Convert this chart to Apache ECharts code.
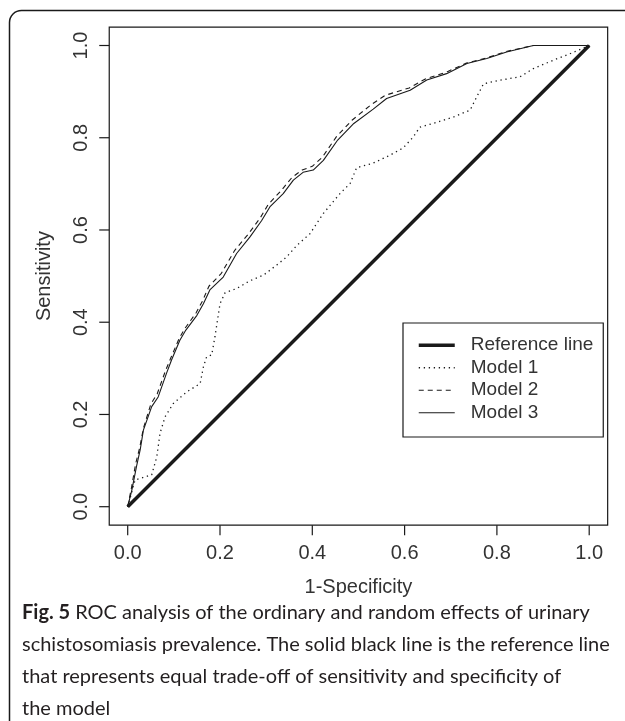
<!DOCTYPE html>
<html>
<head>
<meta charset="utf-8">
<script src="https://cdn.jsdelivr.net/npm/echarts@6/dist/echarts.min.js"></script>
<style>
  html, body { margin: 0; padding: 0; background: #fff; }
  #roc { width: 625px; height: 721px; }
</style>
</head>
<body>
<div id="roc"></div>
<script>
// tick values for both axes
var tickValues = [0, 0.2, 0.4, 0.6, 0.8, 1.0];

// reference line (diagonal)
var refX = [0, 1];
var refY = [0, 1];

// Model 1 (dotted)
var m1X = [0, 0.016, 0.052, 0.063, 0.07, 0.081, 0.099, 0.128, 0.157, 0.164, 0.171, 0.182, 0.189, 0.2, 0.211, 0.236, 0.265, 0.294, 0.323, 0.345, 0.366, 0.395, 0.424, 0.46, 0.482, 0.496, 0.532, 0.568, 0.597, 0.619, 0.633, 0.662, 0.706, 0.742, 0.756, 0.771, 0.807, 0.85, 0.879, 0.922, 0.958, 1.0];
var m1Y = [0, 0.058, 0.069, 0.108, 0.159, 0.195, 0.224, 0.249, 0.267, 0.303, 0.325, 0.329, 0.368, 0.44, 0.464, 0.473, 0.49, 0.502, 0.524, 0.542, 0.566, 0.592, 0.636, 0.679, 0.701, 0.735, 0.745, 0.762, 0.778, 0.802, 0.823, 0.831, 0.845, 0.86, 0.888, 0.917, 0.925, 0.932, 0.95, 0.968, 0.982, 1.0];

// Model 2 (dashed)
var m2X = [0, 0.008, 0.017, 0.026, 0.034, 0.05, 0.064, 0.082, 0.094, 0.112, 0.125, 0.148, 0.162, 0.176, 0.203, 0.232, 0.262, 0.287, 0.305, 0.333, 0.356, 0.378, 0.4, 0.422, 0.452, 0.486, 0.528, 0.558, 0.61, 0.646, 0.69, 0.734, 0.778, 0.82, 0.879, 1.0];
var m2Y = [0, 0.04, 0.092, 0.128, 0.17, 0.222, 0.245, 0.295, 0.324, 0.366, 0.388, 0.42, 0.446, 0.478, 0.506, 0.556, 0.592, 0.626, 0.656, 0.686, 0.714, 0.73, 0.738, 0.758, 0.802, 0.838, 0.872, 0.892, 0.908, 0.928, 0.942, 0.962, 0.973, 0.987, 1.0, 1.0];

// Model 3 (solid)
var m3X = [0, 0.009, 0.019, 0.027, 0.034, 0.052, 0.066, 0.084, 0.095, 0.113, 0.126, 0.15, 0.164, 0.178, 0.207, 0.236, 0.265, 0.29, 0.308, 0.337, 0.359, 0.38, 0.402, 0.424, 0.455, 0.49, 0.532, 0.561, 0.612, 0.648, 0.691, 0.735, 0.778, 0.821, 0.879, 1.0];
var m3Y = [0, 0.036, 0.087, 0.123, 0.166, 0.217, 0.238, 0.289, 0.318, 0.361, 0.383, 0.415, 0.44, 0.47, 0.498, 0.549, 0.585, 0.62, 0.65, 0.679, 0.708, 0.725, 0.73, 0.751, 0.795, 0.831, 0.862, 0.885, 0.903, 0.925, 0.939, 0.961, 0.972, 0.986, 1.0, 1.0];

function pairs(xs, ys) {
  return xs.map(function (x, i) { return [x, ys[i]]; });
}

var ink = "#1a1a1a";
var textGrey = "#333";
var rFont = "Liberation Sans, Arial, sans-serif";
var capFont = "Lato, Open Sans, sans-serif";

// data region (0..1) inside the R style box, box is 4% wider on each side
var plotL = 127.7, plotT = 45.5, plotW = 461.5, plotH = 461.2;
var padX = plotW * 0.04, padY = plotH * 0.04;
var boxL = plotL - padX, boxB = plotT + plotH + padY;
var tickLen = 10;

var tMin = tickValues[0], tMax = tickValues[tickValues.length - 1];

function hiddenAxis(gi) {
  return { type: "value", gridIndex: gi, min: tMin, max: tMax, show: false };
}

var tickLabel = {
  margin: 18,
  fontFamily: rFont,
  fontSize: 20,
  color: textGrey,
  showMinLabel: true,
  showMaxLabel: true,
  formatter: function (v) { return v.toFixed(1); }
};

var graphics = [
  {
    // outer figure frame, only top-left visible
    type: "rect",
    shape: { x: 9.5, y: 10.5, width: 720, height: 820, r: 12 },
    style: { fill: "none", stroke: ink, lineWidth: 1.5 },
    silent: true
  },
  {
    // plot box
    type: "rect",
    shape: { x: boxL, y: plotT - padY, width: plotW + 2 * padX, height: plotH + 2 * padY },
    style: { fill: "none", stroke: ink, lineWidth: 1.2 },
    silent: true
  }
];

// R style outward ticks on the box edge, same linear mapping as the data grid
tickValues.forEach(function (v) {
  var t = (v - tMin) / (tMax - tMin);
  var px = plotL + plotW * t;
  var py = plotT + plotH * (1 - t);
  graphics.push({
    type: "rect", silent: true, z: 10,
    shape: { x: px - 0.6, y: boxB, width: 1.2, height: tickLen },
    style: { fill: ink }
  });
  graphics.push({
    type: "rect", silent: true, z: 10,
    shape: { x: boxL - tickLen, y: py - 0.6, width: tickLen, height: 1.2 },
    style: { fill: ink }
  });
});

var chart = echarts.init(document.getElementById("roc"));

var option = {
  animation: false,
  backgroundColor: "#fff",
  color: [ink, ink, ink, ink],
  title: {
    left: 22,
    top: 597,
    padding: 0,
    text: "{b|Fig. 5} {n|ROC analysis of the ordinary and random effects of urinary}\n" +
      "{n|schistosomiasis prevalence. The solid black line is the reference line}\n" +
      "{n|that represents equal trade-off of sensitivity and specificity of}\n" +
      "{n|the model}",
    textStyle: {
      fontWeight: "normal",
      rich: {
        b: { fontFamily: capFont, fontSize: 20, fontWeight: "bold", color: "#231f20", lineHeight: 32 },
        n: { fontFamily: capFont, fontSize: 20, fontWeight: "normal", color: "#231f20", lineHeight: 32 }
      }
    }
  },
  graphic: graphics,
  grid: [
    // 0: data region
    { left: plotL, top: plotT, width: plotW, height: plotH, show: false },
    // 1: carries x labels, bottom edge on the box
    { left: plotL, top: plotT, width: plotW, height: plotH + padY, show: false },
    // 2: carries y labels, left edge on the box
    { left: boxL, top: plotT, width: plotW + padX, height: plotH, show: false }
  ],
  legend: {
    orient: "vertical",
    left: 403,
    top: 323,
    padding: [11, 10, 13, 14],
    borderColor: ink,
    borderWidth: 1.2,
    itemWidth: 36,
    itemHeight: 10,
    itemGap: 0,
    selectedMode: false,
    itemStyle: { opacity: 0 },
    textStyle: { fontFamily: rFont, fontSize: 19, color: textGrey, lineHeight: 22.5, padding: [0, 0, 0, 11] },
    data: [
      { name: "Reference line", lineStyle: { width: 3.5 } },
      { name: "Model 1", lineStyle: { width: 1.3 } },
      { name: "Model 2", lineStyle: { width: 1.1 } },
      { name: "Model 3", lineStyle: { width: 1.1 } }
    ]
  },
  xAxis: [
    hiddenAxis(0),
    {
      type: "value",
      gridIndex: 1,
      min: tMin,
      max: tMax,
      interval: 0.2,
      name: "1-Specificity",
      nameLocation: "middle",
      nameGap: 52,
      nameTextStyle: { fontFamily: rFont, fontSize: 20, color: textGrey },
      axisLine: { show: false },
      splitLine: { show: false },
      axisTick: { show: false },
      axisLabel: tickLabel
    },
    hiddenAxis(2)
  ],
  yAxis: [
    hiddenAxis(0),
    hiddenAxis(1),
    {
      type: "value",
      gridIndex: 2,
      min: tMin,
      max: tMax,
      interval: 0.2,
      name: "Sensitivity",
      nameLocation: "middle",
      nameGap: 55,
      nameTextStyle: { fontFamily: rFont, fontSize: 20, color: textGrey },
      axisLine: { show: false },
      splitLine: { show: false },
      axisTick: { show: false },
      axisLabel: Object.assign({}, tickLabel, { rotate: 90 })
    }
  ],
  series: [
    {
      name: "Reference line",
      type: "line",
      data: pairs(refX, refY),
      symbol: "none",
      clip: false,
      itemStyle: { color: ink },
      lineStyle: { color: ink, width: 3.5 },
      z: 3
    },
    {
      name: "Model 1",
      type: "line",
      data: pairs(m1X, m1Y),
      symbol: "none",
      clip: false,
      itemStyle: { color: ink },
      lineStyle: { color: ink, width: 1.3, type: [1.3, 3.7] }
    },
    {
      name: "Model 2",
      type: "line",
      data: pairs(m2X, m2Y),
      symbol: "none",
      clip: false,
      itemStyle: { color: ink },
      lineStyle: { color: ink, width: 1.1, type: [5, 4] }
    },
    {
      name: "Model 3",
      type: "line",
      data: pairs(m3X, m3Y),
      symbol: "none",
      clip: false,
      itemStyle: { color: ink },
      lineStyle: { color: ink, width: 1.1 }
    }
  ]
};

chart.setOption(option);
</script>
</body>
</html>
